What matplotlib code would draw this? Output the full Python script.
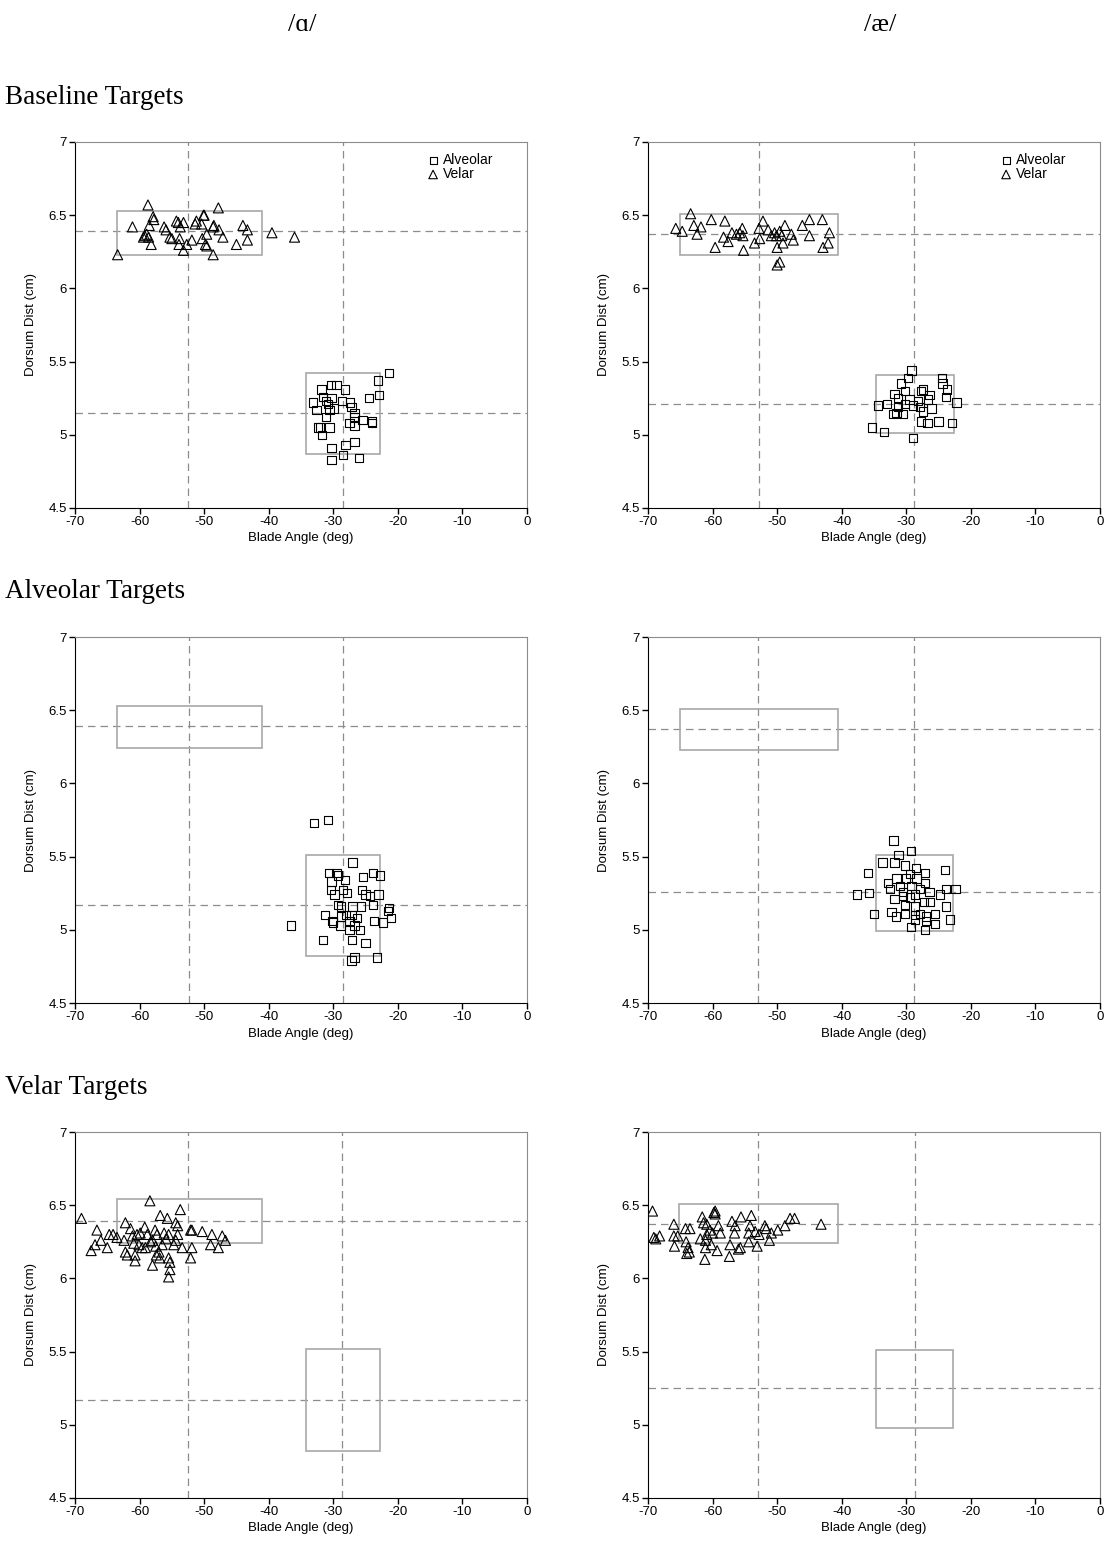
import matplotlib
matplotlib.use("Agg")
import matplotlib.pyplot as plt
from matplotlib.patches import Rectangle
from matplotlib.ticker import FormatStrFormatter

plt.rcParams["font.family"] = ["Liberation Sans", "DejaVu Sans"]
plt.rcParams["axes.unicode_minus"] = False
SERIF = ["Liberation Serif", "DejaVu Serif"]

vowels = ["/ɑ/", "/æ/"]
rows = ["Baseline Targets", "Alveolar Targets", "Velar Targets"]
x_ticks = [-70, -60, -50, -40, -30, -20, -10, 0]
y_ticks = [4.5, 5, 5.5, 6, 6.5, 7]

# /ɑ/ baseline
aa_base_vel_x = [-58.7, -61.1, -57.9, -57.8, -58.5, -59.2, -58.9, -59.4, -58.6, -58.2, -56.2, -55.9, -55.3, -55.0,
                 -54.3, -54.0, -53.2, -53.7, -53.8, -53.9, -53.2, -52.7, -51.9, -51.4, -51.2, -50.4, -50.1, -50.0,
                 -50.3, -49.8, -49.6, -49.6, -48.6, -48.5, -47.7, -47.1, -47.8, -48.6, -45.0, -44.0, -43.3, -43.3,
                 -39.5, -36.0, -63.4]
aa_base_vel_y = [6.57, 6.42, 6.49, 6.47, 6.43, 6.36, 6.37, 6.35, 6.35, 6.30, 6.42, 6.40, 6.35, 6.34, 6.46, 6.45,
                 6.45, 6.42, 6.34, 6.30, 6.26, 6.30, 6.33, 6.44, 6.46, 6.44, 6.50, 6.50, 6.34, 6.30, 6.37, 6.29,
                 6.42, 6.43, 6.40, 6.35, 6.55, 6.23, 6.30, 6.43, 6.40, 6.33, 6.38, 6.35, 6.23]
aa_base_alv_x = [-21.4, -23.1, -22.9, -24.5, -24.0, -24.0, -25.5, -26.7, -26.7, -27.5, -26.7, -27.4, -27.2, -28.2,
                 -28.7, -29.5, -30.4, -31.8, -31.6, -31.1, -30.3, -30.8, -33.1, -32.6, -30.6, -29.9, -31.1, -32.4,
                 -32.1, -30.6, -31.7, -26.7, -28.1, -30.3, -28.5, -30.3, -26.0]
aa_base_alv_y = [5.42, 5.37, 5.27, 5.25, 5.09, 5.08, 5.10, 5.15, 5.12, 5.08, 5.06, 5.22, 5.19, 5.31, 5.23, 5.34,
                 5.34, 5.31, 5.26, 5.23, 5.25, 5.21, 5.22, 5.17, 5.17, 5.18, 5.12, 5.05, 5.05, 5.05, 5.00, 4.95,
                 4.93, 4.91, 4.86, 4.83, 4.84]

# /æ/ baseline
ae_base_vel_x = [-63.4, -65.7, -64.7, -62.9, -61.8, -62.4, -60.2, -58.1, -59.6, -58.3, -57.6, -57.0, -56.3, -55.8,
                 -55.4, -55.3, -55.2, -53.5, -52.7, -52.8, -52.2, -51.4, -50.9, -50.4, -50.1, -49.6, -49.3, -49.1,
                 -48.8, -50.0, -47.8, -47.5, -49.6, -50.0, -46.1, -45.0, -45.0, -43.0, -41.9, -42.1, -42.9]
ae_base_vel_y = [6.51, 6.41, 6.39, 6.43, 6.42, 6.37, 6.47, 6.46, 6.28, 6.35, 6.32, 6.38, 6.37, 6.38, 6.41, 6.36,
                 6.26, 6.31, 6.34, 6.41, 6.46, 6.40, 6.36, 6.38, 6.36, 6.39, 6.36, 6.31, 6.43, 6.28, 6.37, 6.33,
                 6.18, 6.16, 6.43, 6.47, 6.36, 6.47, 6.38, 6.31, 6.28]
ae_base_alv_x = [-29.2, -29.7, -30.8, -24.5, -24.4, -23.7, -30.2, -31.8, -31.3, -27.4, -27.7, -26.4, -23.9, -22.2,
                 -29.5, -28.2, -26.6, -30.2, -29.0, -27.9, -26.1, -34.4, -33.0, -31.3, -31.5, -27.4, -32.0, -30.5,
                 -27.7, -26.7, -25.0, -22.9, -35.3, -33.4, -29.0]
ae_base_alv_y = [5.44, 5.39, 5.35, 5.39, 5.35, 5.31, 5.30, 5.28, 5.25, 5.31, 5.30, 5.27, 5.26, 5.22, 5.24, 5.23,
                 5.24, 5.21, 5.20, 5.19, 5.18, 5.20, 5.21, 5.19, 5.15, 5.16, 5.14, 5.14, 5.09, 5.08, 5.09, 5.08,
                 5.05, 5.02, 4.98]

# /ɑ/ alveolar targets
aa_alv_x = [-33.0, -30.8, -36.6, -27.0, -30.7, -29.5, -29.3, -30.3, -30.4, -28.2, -25.4, -23.8, -22.8, -29.8,
            -28.5, -27.9, -25.6, -25.0, -24.3, -23.0, -23.8, -29.3, -28.8, -27.0, -25.7, -21.4, -21.5, -21.1,
            -31.3, -28.8, -28.0, -27.2, -26.3, -27.5, -26.7, -30.1, -30.0, -28.9, -27.5, -25.9, -23.7, -22.3,
            -31.6, -27.1, -25.0, -26.7, -27.2, -23.2]
aa_alv_y = [5.73, 5.75, 5.03, 5.46, 5.39, 5.39, 5.37, 5.33, 5.27, 5.34, 5.36, 5.39, 5.37, 5.24, 5.27, 5.25,
            5.27, 5.24, 5.23, 5.24, 5.17, 5.17, 5.16, 5.16, 5.16, 5.15, 5.13, 5.08, 5.10, 5.09, 5.10, 5.10,
            5.08, 5.06, 5.03, 5.06, 5.05, 5.03, 5.00, 5.00, 5.06, 5.05, 4.93, 4.93, 4.91, 4.81, 4.79, 4.81]

# /æ/ alveolar targets
ae_alv_x = [-32.0, -29.3, -31.2, -33.7, -31.8, -30.2, -35.9, -28.5, -27.1, -24.0, -29.4, -31.5, -30.0, -28.4,
            -32.8, -27.1, -31.0, -29.2, -27.9, -32.5, -26.4, -24.8, -23.8, -22.4, -37.6, -35.8, -30.5, -28.7,
            -31.8, -30.2, -27.3, -26.3, -23.9, -28.7, -35.0, -32.3, -31.6, -30.2, -28.7, -27.9, -26.9, -25.6,
            -28.7, -26.9, -25.6, -23.2, -29.3, -27.1, -30.5, -29.4]
ae_alv_y = [5.61, 5.54, 5.51, 5.46, 5.46, 5.44, 5.39, 5.42, 5.39, 5.41, 5.38, 5.35, 5.35, 5.35, 5.32, 5.32,
            5.30, 5.30, 5.28, 5.28, 5.26, 5.24, 5.28, 5.28, 5.24, 5.25, 5.26, 5.24, 5.21, 5.17, 5.19, 5.19,
            5.16, 5.16, 5.11, 5.12, 5.09, 5.11, 5.10, 5.11, 5.09, 5.11, 5.07, 5.06, 5.04, 5.07, 5.02, 5.00,
            5.23, 5.22]

# /ɑ/ velar targets
aa_vel_x = [-69.0, -58.4, -53.7, -56.8, -55.7, -54.4, -54.1, -62.2, -61.4, -66.6, -64.7, -64.1, -63.5, -66.0,
            -66.9, -67.5, -65.0, -62.4, -61.1, -60.4, -59.9, -59.2, -58.8, -57.6, -57.3, -56.2, -55.5, -60.9,
            -59.6, -58.3, -57.5, -56.5, -54.7, -53.4, -51.9, -52.1, -51.9, -50.3, -48.8, -47.2, -46.7, -49.0,
            -47.8, -62.2, -61.9, -60.7, -60.7, -57.0, -57.4, -58.0, -56.9, -55.5, -55.3, -55.3, -55.5, -52.1,
            -54.4, -60.1, -59.1, -55.9, -54.1, -58.0]
aa_vel_y = [6.41, 6.53, 6.47, 6.43, 6.41, 6.38, 6.36, 6.38, 6.34, 6.33, 6.30, 6.30, 6.28, 6.26, 6.23, 6.19,
            6.21, 6.26, 6.29, 6.30, 6.31, 6.35, 6.30, 6.33, 6.30, 6.31, 6.30, 6.24, 6.21, 6.25, 6.22, 6.23,
            6.23, 6.21, 6.21, 6.33, 6.33, 6.32, 6.30, 6.29, 6.26, 6.23, 6.21, 6.18, 6.16, 6.16, 6.12, 6.18,
            6.16, 6.09, 6.14, 6.14, 6.11, 6.06, 6.01, 6.14, 6.26, 6.23, 6.21, 6.27, 6.30, 6.26]

# /æ/ velar targets
ae_vel_x = [-69.3, -69.1, -68.8, -68.2, -66.0, -66.0, -65.4, -65.9, -64.2, -63.5, -64.1, -63.8, -64.0, -63.6,
            -61.6, -61.4, -59.6, -59.6, -60.9, -60.4, -60.9, -61.9, -61.1, -60.0, -59.1, -58.8, -61.1, -61.2,
            -59.3, -60.2, -57.0, -56.5, -56.6, -55.6, -54.0, -57.3, -57.4, -56.0, -55.7, -54.4, -54.2, -53.4,
            -54.4, -53.1, -52.8, -51.9, -51.7, -50.9, -51.2, -49.9, -48.8, -48.0, -47.3, -43.2, -59.8]
ae_vel_y = [6.46, 6.28, 6.27, 6.29, 6.37, 6.29, 6.29, 6.22, 6.34, 6.34, 6.25, 6.21, 6.17, 6.18, 6.42, 6.38,
            6.46, 6.44, 6.37, 6.33, 6.30, 6.27, 6.26, 6.31, 6.36, 6.31, 6.21, 6.13, 6.19, 6.23, 6.39, 6.36,
            6.31, 6.42, 6.43, 6.23, 6.15, 6.20, 6.21, 6.31, 6.36, 6.32, 6.25, 6.22, 6.30, 6.36, 6.34, 6.31,
            6.26, 6.33, 6.36, 6.41, 6.41, 6.37, 6.45]

# mean lines (blade angle, dorsum dist) and target boxes (x0, x1, y0, y1) per panel
aa_base_means = ([-52.5, -28.5], [6.39, 5.15])
ae_base_means = ([-52.8, -28.8], [6.37, 5.21])
aa_alv_means = ([-52.4, -28.5], [6.39, 5.17])
ae_alv_means = ([-53.0, -28.8], [6.375, 5.26])
aa_vel_means = ([-52.5, -28.7], [6.39, 5.17])
ae_vel_means = ([-53.0, -28.7], [6.37, 5.25])

aa_base_boxes = [(-63.5, -41.0, 6.23, 6.53), (-34.3, -22.7, 4.87, 5.42)]
ae_base_boxes = [(-65.0, -40.5, 6.23, 6.51), (-34.7, -22.6, 5.01, 5.41)]
aa_alv_boxes = [(-63.5, -41.0, 6.24, 6.53), (-34.3, -22.7, 4.82, 5.51)]
ae_alv_boxes = [(-65.1, -40.5, 6.23, 6.51), (-34.7, -22.7, 4.99, 5.51)]
aa_vel_boxes = [(-63.5, -41.0, 6.24, 6.54), (-34.2, -22.7, 4.82, 5.52)]
ae_vel_boxes = [(-65.2, -40.6, 6.24, 6.51), (-34.7, -22.7, 4.98, 5.51)]


def setup_axes(ax, means, boxes):
    ax.set_xlim(-70, 0)
    ax.set_ylim(4.5, 7)
    ax.set_xticks(x_ticks)
    ax.set_yticks(y_ticks)
    ax.yaxis.set_major_formatter(FormatStrFormatter("%g"))
    ax.tick_params(direction="out", length=4, width=1, labelsize=9.5, pad=2)
    for side in ("top", "right"):
        ax.spines[side].set_color("#8c8c8c")
    for side in ("left", "bottom"):
        ax.spines[side].set_color("black")
    ax.set_xlabel("Blade Angle (deg)", fontsize=9.5, labelpad=3)
    ax.set_ylabel("Dorsum Dist (cm)", fontsize=9.5, labelpad=8)
    vx, hy = means
    for v in vx:
        ax.axvline(v, color="#8c8c8c", lw=0.9, ls=(0, (6, 4)), zorder=1)
    for h in hy:
        ax.axhline(h, color="#8c8c8c", lw=0.9, ls=(0, (6, 4)), zorder=1)
    for x0, x1, y0, y1 in boxes:
        ax.add_patch(Rectangle((x0, y0), x1 - x0, y1 - y0, fill=False,
                               edgecolor="#a8a8a8", lw=1.2, zorder=2))


def squares(ax, x, y, label=None):
    ax.scatter(x, y, marker="s", s=36, facecolors="none", edgecolors="black",
               linewidths=0.8, zorder=3, label=label)


def triangles(ax, x, y, label=None):
    ax.scatter(x, y, marker="^", s=52, facecolors="none", edgecolors="black",
               linewidths=0.8, zorder=3, label=label)


fig = plt.figure(figsize=(11.09, 15.54), dpi=100)

left_x, right_x, w = 75 / 1109, 648 / 1109, 452 / 1109
bottoms = [1 - 508 / 1554, 1 - 1003 / 1554, 1 - 1498 / 1554]
h = 366 / 1554

panels = [
    (0, left_x, aa_base_means, aa_base_boxes),
    (0, right_x, ae_base_means, ae_base_boxes),
    (1, left_x, aa_alv_means, aa_alv_boxes),
    (1, right_x, ae_alv_means, ae_alv_boxes),
    (2, left_x, aa_vel_means, aa_vel_boxes),
    (2, right_x, ae_vel_means, ae_vel_boxes),
]
axes = []
for r, x0, means, boxes in panels:
    ax = fig.add_axes([x0, bottoms[r], w, h])
    setup_axes(ax, means, boxes)
    axes.append(ax)

squares(axes[0], aa_base_alv_x, aa_base_alv_y, "Alveolar")
triangles(axes[0], aa_base_vel_x, aa_base_vel_y, "Velar")
squares(axes[1], ae_base_alv_x, ae_base_alv_y, "Alveolar")
triangles(axes[1], ae_base_vel_x, ae_base_vel_y, "Velar")
squares(axes[2], aa_alv_x, aa_alv_y)
squares(axes[3], ae_alv_x, ae_alv_y)
triangles(axes[4], aa_vel_x, aa_vel_y)
triangles(axes[5], ae_vel_x, ae_vel_y)

for ax in axes[:2]:
    ax.legend(loc="upper right", bbox_to_anchor=(0.95, 1.0), frameon=False, fontsize=10,
              handlelength=0.8, handletextpad=0.3, labelspacing=0.0, borderpad=0.3,
              markerscale=0.85)

fig.text(302 / 1109, 1 - 25 / 1554, vowels[0], ha="center", va="center", fontsize=19, family=SERIF)
fig.text(880 / 1109, 1 - 25 / 1554, vowels[1], ha="center", va="center", fontsize=19, family=SERIF)
for label, ypx in zip(rows, [97, 592, 1088]):
    fig.text(5 / 1109, 1 - ypx / 1554, label, ha="left", va="center", fontsize=19.5, family=SERIF)

fig.savefig("out.png", dpi=100)
plt.close(fig)
